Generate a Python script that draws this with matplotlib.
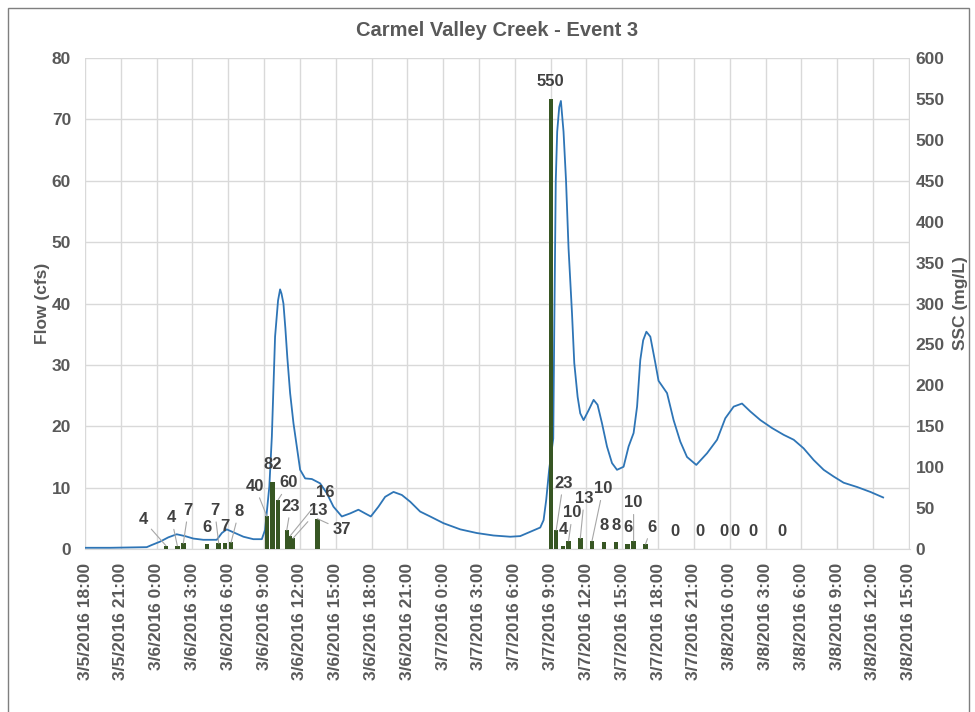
import matplotlib
matplotlib.use("Agg")
import matplotlib.pyplot as plt
from matplotlib.patches import Rectangle
import pandas as pd

plt.rcParams['font.family'] = ['Liberation Sans', 'DejaVu Sans']
plt.rcParams['font.weight'] = 'bold'

START = pd.Timestamp('2016-03-05 18:00')

# flow record, hours after start of event window
flow_hours = [0.00, 2.10, 5.17, 5.59, 6.29, 6.98, 7.68, 8.38, 9.08, 9.91,
              11.04, 11.46, 11.87, 12.57, 13.27, 14.10, 14.81, 15.08, 15.44, 15.65,
              15.92, 16.17, 16.34, 16.46, 16.62, 16.78, 16.95, 17.18, 17.46, 17.74,
              18.02, 18.44, 19.00, 19.69, 20.25, 20.81, 21.51, 22.21, 22.90, 23.46,
              23.94, 24.58, 25.14, 25.84, 26.54, 27.24, 28.07, 28.91, 30.03, 31.43,
              32.82, 34.22, 35.62, 36.45, 37.29, 38.13, 38.41, 38.63, 38.88, 39.22,
              39.30, 39.43, 39.55, 39.72, 39.86, 40.08, 40.29, 40.50, 40.79, 40.98,
              41.26, 41.48, 41.76, 42.18, 42.60, 42.93, 43.30, 43.72, 44.14, 44.56,
              45.11, 45.53, 45.95, 46.24, 46.51, 46.75, 47.02, 47.35, 47.77, 48.04,
              48.75, 49.30, 49.86, 50.42, 51.20, 52.10, 52.94, 53.63, 54.33, 55.03,
              55.73, 56.57, 57.55, 58.52, 59.36, 60.19, 61.03, 61.87, 62.71, 63.54,
              64.67, 65.78, 66.85]
flow_cfs = [0.2, 0.2, 0.3, 0.65, 1.2, 1.9, 2.4, 2.1, 1.7, 1.5,
            1.5, 2.6, 3.2, 2.6, 2.0, 1.6, 1.6, 3.1, 10.2, 18.3,
            34.6, 40.5, 42.3, 41.6, 40.0, 36.0, 31.1, 25.4, 20.5, 16.7,
            12.9, 11.5, 11.4, 10.7, 9.1, 6.9, 5.3, 5.8, 6.4, 5.8,
            5.3, 6.9, 8.5, 9.3, 8.8, 7.7, 6.1, 5.3, 4.2, 3.2,
            2.6, 2.2, 2.0, 2.1, 2.8, 3.5, 4.7, 8.0, 13.0, 18.0,
            35.0, 60.0, 68.0, 72.0, 73.0, 68.0, 60.0, 49.0, 38.4, 30.3,
            24.8, 22.1, 21.0, 22.6, 24.3, 23.5, 20.5, 16.7, 14.0, 12.9,
            13.4, 16.7, 18.9, 23.2, 30.8, 34.0, 35.4, 34.6, 30.3, 27.4,
            25.4, 21.0, 17.5, 15.0, 13.7, 15.6, 17.8, 21.3, 23.2, 23.7,
            22.4, 21.0, 19.7, 18.6, 17.8, 16.4, 14.5, 12.9, 11.8, 10.8,
            10.1, 9.3, 8.4]

# suspended sediment samples
sample_times = ['2016-03-06 00:47', '2016-03-06 01:44', '2016-03-06 02:14', '2016-03-06 04:13',
                '2016-03-06 05:12', '2016-03-06 05:43', '2016-03-06 06:14', '2016-03-06 09:14',
                '2016-03-06 09:42', '2016-03-06 10:10', '2016-03-06 10:54', '2016-03-06 11:11',
                '2016-03-06 11:25', '2016-03-06 13:28', '2016-03-07 09:01', '2016-03-07 09:28',
                '2016-03-07 10:02', '2016-03-07 10:30', '2016-03-07 11:29', '2016-03-07 12:28',
                '2016-03-07 13:29', '2016-03-07 14:28', '2016-03-07 15:27', '2016-03-07 15:57',
                '2016-03-07 16:57', '2016-03-07 19:26', '2016-03-07 21:29', '2016-03-07 23:29',
                '2016-03-08 00:25', '2016-03-08 01:55', '2016-03-08 04:23']
ssc_mgl = [4, 4, 7, 6, 7, 7, 8, 40, 82, 60, 23, 16, 13, 37, 550, 23, 4, 10, 13, 10,
           8, 8, 6, 10, 6, 0, 0, 0, 0, 0, 0]

# label placement (pixels from bar top) and whether a leader line is drawn
label_dx = [-23, -6, 5, 0, -4, 0, 8, -12, 0, 11, 4, 35, 25, 24, 0, 7, 0, 4, 4, 11,
            0, 0, 0, 0, 6, 0, 0, 0, 0, 0, 0]
label_dy = [26, 28, 33, 17, 33, 17, 31, 30, 17, 17, 24, 43, 28, -11, 17, 47, 16, 28, 40, 52,
            17, 17, 17, 38, 17, 17, 17, 17, 17, 17, 17]
leader = [1, 1, 1, 0, 1, 0, 1, 1, 0, 1, 1, 1, 1, 1, 0, 1, 0, 1, 1, 1,
          0, 0, 0, 1, 1, 0, 0, 0, 0, 0, 0]

TEXT = '#595959'
GRID = '#d9d9d9'

flow_t = START + pd.to_timedelta(flow_hours, unit='h')
samp_t = pd.to_datetime(sample_times)

fig = plt.figure(figsize=(9.75, 7.12), dpi=100)
ax = fig.add_axes([85 / 975, 1 - 549 / 712, (910 - 85) / 975, (549 - 58) / 712])
ax2 = ax.twinx()

ax.plot(flow_t, flow_cfs, color='#2e75b6', lw=1.3, zorder=3)
ax2.bar(samp_t, ssc_mgl, width=0.38 / 24, color='#375623', zorder=3)

for t, v, dx, dy, ld in zip(samp_t, ssc_mgl, label_dx, label_dy, leader):
    props = dict(arrowstyle='-', color='#a6a6a6', lw=0.8, shrinkA=1, shrinkB=0) if ld else None
    ax2.annotate(str(v), xy=(t, v), xytext=(dx * 0.72, dy * 0.72), textcoords='offset points',
                 ha='center', va='center', fontsize=12, fontweight='bold', color='#404040',
                 arrowprops=props)

ticks = pd.date_range(START, '2016-03-08 15:00', freq='3h')
tick_labels = [f'{d.month}/{d.day}/{d.year} {d.hour}:{d.minute:02d}' for d in ticks]
ax.set_xticks(ticks)
ax.set_xticklabels(tick_labels, rotation=90, ha='center', va='top')
ax.set_xlim(START, START + pd.Timedelta(hours=69.1))

ax.set_ylim(0, 80)
ax.set_yticks(range(0, 81, 10))
ax2.set_ylim(0, 600)
ax2.set_yticks(range(0, 601, 50))

ax.grid(True, color=GRID, lw=1, zorder=0)
ax.set_axisbelow(True)

for a in (ax, ax2):
    for side in ('top', 'left', 'right'):
        a.spines[side].set_visible(False)
    a.spines['bottom'].set_color(GRID)
    a.tick_params(length=0, labelsize=12.5, colors=TEXT)
ax.tick_params(axis='y', pad=10)
ax.tick_params(axis='x', pad=10)
ax2.tick_params(axis='y', pad=4)
ax2.spines['bottom'].set_visible(False)

ax.set_ylabel('Flow (cfs)', fontsize=12.5, fontweight='bold', color=TEXT, labelpad=1)
ax2.set_ylabel('SSC (mg/L)', fontsize=12.5, fontweight='bold', color=TEXT, labelpad=6)

fig.text(497 / 975, 1 - 30 / 712, 'Carmel Valley Creek - Event 3', ha='center', va='center',
         fontsize=14.5, fontweight='bold', color=TEXT)

fig.patches.append(Rectangle((8 / 975, -0.02), (969 - 8) / 975, 1.02 - 8 / 712,
                             transform=fig.transFigure, fill=False, edgecolor='#7f7f7f', lw=1))

fig.savefig('out.png', dpi=100)
